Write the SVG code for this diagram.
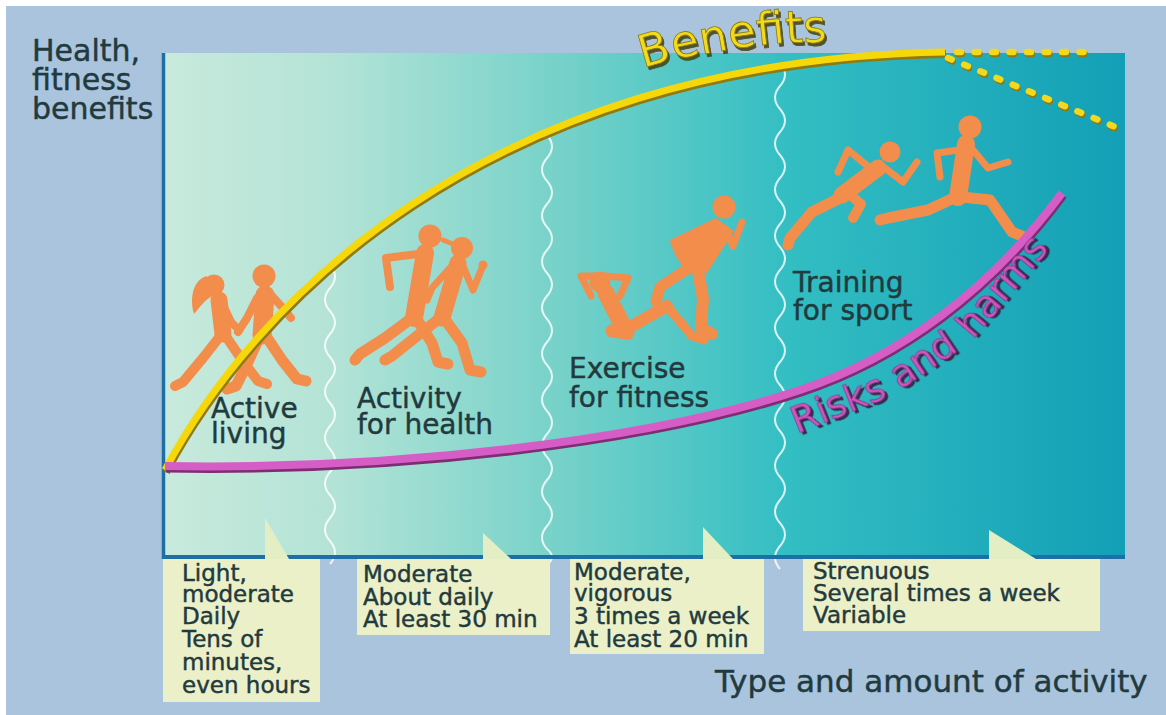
<svg xmlns="http://www.w3.org/2000/svg" width="1166" height="715" viewBox="0 0 1166 715">
<defs>
<linearGradient id="plotGrad" gradientUnits="userSpaceOnUse" x1="163" y1="0" x2="1125" y2="0">
<stop offset="0" stop-color="#c8eadc"/>
<stop offset="0.18" stop-color="#b3e3d6"/>
<stop offset="0.42" stop-color="#74d1c9"/>
<stop offset="0.65" stop-color="#33bec3"/>
<stop offset="1" stop-color="#139fb6"/>
</linearGradient>
<filter id="shY" filterUnits="userSpaceOnUse" x="0" y="0" width="1166" height="715">
<feDropShadow dx="2" dy="3" stdDeviation="0.6" flood-color="#4a4418" flood-opacity="0.9"/>
</filter>
<filter id="shM" filterUnits="userSpaceOnUse" x="-2000" y="-2000" width="4000" height="4000">
<feDropShadow dx="2" dy="3" stdDeviation="0.6" flood-color="#3e1840" flood-opacity="0.9"/>
</filter>
<style>
.t{font-family:"DejaVu Sans","Liberation Sans",sans-serif;fill:#223a3e;stroke:#223a3e;stroke-width:0.45}
.lbl{font-size:28px}
.box text{font-size:23px}
.boxbg{fill:#ecf0c8}
.ptr{fill:#e4eec4}
.wave{fill:none;stroke:#ffffff;stroke-opacity:0.8;stroke-width:2}
.fig path.l{fill:none;stroke:#f28d4c;stroke-linecap:round;stroke-linejoin:round}
.fig circle,.fig path.s{fill:#f28d4c}
.risk{font-family:"DejaVu Sans","Liberation Sans",sans-serif;font-size:38px;fill:#cf55c0;stroke:#7a2a70;stroke-width:0.6;filter:url(#shM)}
</style>
</defs>

<!-- background -->
<rect x="0" y="0" width="1166" height="715" fill="#a9c4dc"/>
<rect x="0" y="0" width="1166" height="6" fill="#ffffff"/>
<rect x="0" y="0" width="6" height="715" fill="#ffffff"/>

<!-- plot area -->
<rect id="plot" x="163" y="53" width="962" height="503" fill="url(#plotGrad)"/>

<!-- section separators -->
<g id="separators">
<path class="wave" d="M330,265 q10,11.5 0,23 q-10,11.5 0,23 q10,11.5 0,23 q-10,11.5 0,23 q10,11.5 0,23 q-10,11.5 0,23 q10,11.5 0,23 q-10,11.5 0,23 q10,11.5 0,23 q-10,11.5 0,23 q10,11.5 0,23 q-10,11.5 0,23 q10,11.5 0,23"/>
<path class="wave" d="M547,135 q10,11.5 0,23 q-10,11.5 0,23 q10,11.5 0,23 q-10,11.5 0,23 q10,11.5 0,23 q-10,11.5 0,23 q10,11.5 0,23 q-10,11.5 0,23 q10,11.5 0,23 q-10,11.5 0,23 q10,11.5 0,23 q-10,11.5 0,23 q10,11.5 0,23 q-10,11.5 0,23 q10,11.5 0,23 q-10,11.5 0,23 q10,11.5 0,23 q-10,11.5 0,23 q10,8 0,16"/>
<path class="wave" d="M780,63 q10,11.5 0,23 q-10,11.5 0,23 q10,11.5 0,23 q-10,11.5 0,23 q10,11.5 0,23 q-10,11.5 0,23 q10,11.5 0,23 q-10,11.5 0,23 q10,11.5 0,23 q-10,11.5 0,23 q10,11.5 0,23 q-10,11.5 0,23 q10,11.5 0,23 q-10,11.5 0,23 q10,11.5 0,23 q-10,11.5 0,23 q10,11.5 0,23 q-10,11.5 0,23 q10,11.5 0,23 q-10,11.5 0,23 q10,11.5 0,23 q-10,11.5 0,23"/>
</g>

<!-- axes -->
<g id="axes">
<line x1="163.5" y1="53" x2="163.5" y2="559" stroke="#1d6fa5" stroke-width="3.5"/>
<line x1="162" y1="557" x2="1125" y2="557" stroke="#1d6fa5" stroke-width="4"/>
</g>

<!-- figures -->
<g id="fig-active-living" class="fig">
<circle cx="214" cy="285" r="10.5"/>
<path class="s" d="M207,276 C194,279 189,297 194,314 C200,307 205,300 212,296 Z"/>
<path class="l" stroke-width="17" d="M219,300 L223,334"/>
<path class="l" stroke-width="8" d="M222,303 L231,322 L239,330"/>
<path class="l" stroke-width="10" d="M221,335 L203,358 L183,382 L175,386"/>
<path class="l" stroke-width="10" d="M225,335 L242,360 L258,381 L267,384"/>
<circle cx="264" cy="276" r="11.5"/>
<path class="l" stroke-width="19" d="M265,295 L262,335"/>
<path class="l" stroke-width="8" d="M272,296 L283,308 L291,318"/>
<path class="l" stroke-width="8" d="M257,298 L247,318 L238,332"/>
<path class="l" stroke-width="11" d="M260,336 L248,362 L236,386 L227,389"/>
<path class="l" stroke-width="11" d="M266,336 L282,360 L297,379 L306,381"/>
</g>

<g id="fig-activity-health" class="fig">
<circle cx="430" cy="236" r="11.5"/>
<path class="l" stroke-width="18" d="M425,253 L414,318"/>
<path class="l" stroke-width="8" d="M418,254 L386,258 L390,287"/>
<path class="l" stroke-width="11" d="M412,318 L385,338 L360,354 L355,360"/>
<path class="l" stroke-width="11" d="M416,318 L432,343 L438,362 L448,364"/>
<circle cx="462" cy="248" r="11"/>
<path class="l" stroke-width="5" d="M453,244 L443,240"/>
<path class="l" stroke-width="17" d="M458,263 L442,318"/>
<path class="l" stroke-width="7" d="M463,266 L473,290 L482,268"/>
<circle cx="483" cy="265" r="4.5"/>
<path class="l" stroke-width="7" d="M450,268 L432,288 L427,300"/>
<path class="l" stroke-width="11" d="M440,318 L412,340 L392,356 L385,360"/>
<path class="l" stroke-width="11" d="M444,318 L462,343 L470,370 L481,372"/>
</g>

<g id="fig-exercise" class="fig">
<circle cx="600" cy="282" r="10.5"/>
<path class="l" stroke-width="7" d="M596,276 L581,276 L591,296"/>
<path class="l" stroke-width="7" d="M606,276 L628,278 L620,296"/>
<path class="l" stroke-width="17" d="M606,293 L625,330"/>
<path class="l" stroke-width="13" d="M612,331 L628,333"/>
<path class="l" stroke-width="12" d="M625,330 L667,306"/>
<path class="l" stroke-width="9" d="M667,306 L692,336 L704,340"/>
<circle cx="724" cy="207" r="11.5"/>
<path class="s" d="M716,218 L734,231 L707,273 L687,271 C678,262 672,250 670,240 Z"/>
<path class="l" stroke-width="7" d="M727,232 L733,246 L742,222"/>
<path class="l" stroke-width="12" d="M697,266 L703,298 L701,328 L712,334"/>
<path class="l" stroke-width="11" d="M692,266 L660,287 L656,302"/>
</g>

<g id="fig-training" class="fig">
<circle cx="890" cy="152" r="10.5"/>
<path class="l" stroke-width="17" d="M878,168 L842,195"/>
<path class="l" stroke-width="7" d="M885,168 L903,182 L917,162"/>
<path class="l" stroke-width="7" d="M870,168 L848,150 L838,172"/>
<path class="l" stroke-width="10" d="M847,192 L861,204 L853,218"/>
<path class="l" stroke-width="11" d="M840,198 L812,212 L790,238 L788,245"/>
<circle cx="970" cy="127" r="11.5"/>
<path class="l" stroke-width="18" d="M966,144 L958,197"/>
<path class="l" stroke-width="7" d="M973,150 L988,168 L1008,162"/>
<path class="l" stroke-width="7" d="M959,150 L937,153 L940,177"/>
<path class="l" stroke-width="11" d="M956,197 L928,210 L888,218 L880,220"/>
<path class="l" stroke-width="11" d="M962,197 L990,200 L1012,232 L1022,236"/>
</g>

<!-- curves -->
<g id="curves">
<g id="benefits-curve">
<path d="M165,470 C250,310 480,60 945,52" fill="none" stroke="#8f7a12" stroke-width="8" transform="translate(1,2)"/>
<path d="M165,470 C250,310 480,60 945,52" fill="none" stroke="#f6d80a" stroke-width="7"/>
<path d="M957,52 L1086,52 M948,58 L1118,128" fill="none" stroke="#8f7a12" stroke-width="6.5" stroke-linecap="round" stroke-dasharray="4 13.5" transform="translate(1,2)"/>
<path d="M957,52 L1086,52 M948,58 L1118,128" fill="none" stroke="#f3d81c" stroke-width="6.5" stroke-linecap="round" stroke-dasharray="4 13.5"/>
</g>
<g id="risks-curve">
<path d="M165,466 C400,470 650,440 800,390 C900,357 990,290 1062,193" fill="none" stroke="#7d2d72" stroke-width="9" transform="translate(1,2)"/>
<path d="M165,466 C400,470 650,440 800,390 C900,357 990,290 1062,193" fill="none" stroke="#d75dc6" stroke-width="8"/>
</g>
</g>

<!-- curve labels -->
<g id="benefits-label">
<text x="643" y="68" rotate="-16 -12 -10 -8 -6 -5 -4 -3" dy="0 -8.5 -5 -5.5 -3.5 -1 -0.9 -0.6" font-family="DejaVu Sans, Liberation Sans, sans-serif" font-size="45" fill="#f3da1c" stroke="#8a7a10" stroke-width="0.8" filter="url(#shY)">Benefits</text>
</g>
<g id="risks-label">
<text class="risk" transform="translate(797,434) rotate(-22)">Risks</text>
<text class="risk" transform="translate(900,390) rotate(-34)">and</text>
<text class="risk" transform="translate(973,340) rotate(-50)">harms</text>
</g>

<!-- section labels -->
<g id="label-active-living" class="t lbl"><text x="211" y="418">Active</text><text x="211" y="443">living</text></g>
<g id="label-activity-health" class="t lbl"><text x="357" y="408">Activity</text><text x="357" y="434">for health</text></g>
<g id="label-exercise" class="t lbl"><text x="569" y="378">Exercise</text><text x="569" y="407">for fitness</text></g>
<g id="label-training" class="t lbl"><text x="793" y="292">Training</text><text x="793" y="320">for sport</text></g>

<!-- axis titles -->
<g id="y-axis-title" class="t" font-size="30">
<text x="32" y="61">Health,</text>
<text x="32" y="90">fitness</text>
<text x="32" y="119">benefits</text>
</g>
<g id="x-axis-title" class="t"><text x="715" y="692" font-size="31">Type and amount of activity</text></g>

<!-- boxes -->
<g id="box-light" class="box t">
<polygon class="ptr" points="265,518 289,559 265,559" stroke="none"/>
<rect class="boxbg" x="163" y="559" width="157" height="143" stroke="none"/>
<text x="182" y="581">Light,</text>
<text x="182" y="602">moderate</text>
<text x="182" y="624">Daily</text>
<text x="182" y="647">Tens of</text>
<text x="182" y="670">minutes,</text>
<text x="182" y="693">even hours</text>
</g>
<g id="box-moderate" class="box t">
<polygon class="ptr" points="483,533 511,559 483,559" stroke="none"/>
<rect class="boxbg" x="357" y="559" width="193" height="76" stroke="none"/>
<text x="363" y="582">Moderate</text>
<text x="363" y="605">About daily</text>
<text x="363" y="627">At least 30 min</text>
</g>
<g id="box-vigorous" class="box t">
<polygon class="ptr" points="703,527 733,559 703,559" stroke="none"/>
<rect class="boxbg" x="570" y="559" width="194" height="95" stroke="none"/>
<text x="574" y="580">Moderate,</text>
<text x="574" y="601">vigorous</text>
<text x="574" y="624">3 times a week</text>
<text x="574" y="647">At least 20 min</text>
</g>
<g id="box-strenuous" class="box t">
<polygon class="ptr" points="989,530 1036,559 989,559" stroke="none"/>
<rect class="boxbg" x="803" y="559" width="297" height="72" stroke="none"/>
<text x="813" y="579">Strenuous</text>
<text x="813" y="601">Several times a week</text>
<text x="813" y="623">Variable</text>
</g>
</svg>
